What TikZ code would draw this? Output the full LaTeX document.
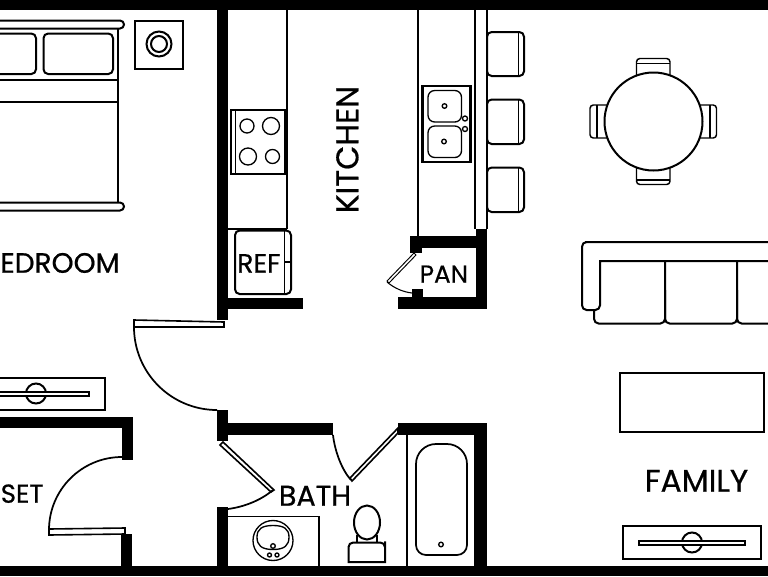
\documentclass[tikz,border=0pt]{standalone}
\usepackage{fontspec}
\setmainfont[FakeBold=0.6]{Poppins}
\usetikzlibrary{positioning}
\tikzset{
  wall/.style={fill=black},
  fixture/.style={draw,line width=1.5pt,fill=white},
  thinline/.style={draw,line width=1pt},
  swing/.style={draw,line width=1.3pt},
  roomlabel/.style={inner sep=0pt,font=\fontsize{21pt}{21pt}\selectfont,text height=15.5pt,text depth=0pt},
}
\begin{document}
\begin{tikzpicture}[x=0.75pt,y=-0.75pt]
  \useasboundingbox (0,0) rectangle (768,576);
  \fill[white] (0,0) rectangle (768,576);

  % walls
  \fill[wall] (0,0) rectangle (768,10);
  \fill[wall] (0,566) rectangle (768,576);
  \fill[wall] (217,10) rectangle (228,320);
  \fill[wall] (228,298) rectangle (303,309);
  \fill[wall] (217,410) rectangle (228,441);
  \fill[wall] (228,423) rectangle (333,435);
  \fill[wall] (217,507) rectangle (228,566);
  \fill[wall] (398,423) rectangle (487,435);
  \fill[wall] (474,423) rectangle (487,566);
  \fill[wall] (0,417) rectangle (133,428);
  \fill[wall] (122,417) rectangle (133,460);
  \fill[wall] (121,534) rectangle (132,566);
  \fill[wall] (410,236) rectangle (487,248);
  \fill[wall] (410,236) rectangle (422,253);
  \fill[wall] (476,229) rectangle (487,309);
  \fill[wall] (398,297) rectangle (487,309);
  \fill[wall] (412,289) rectangle (423,297);

  % doors
  \draw[fixture,line width=1.2pt] (134,320) -- (224,322) -- (224,327) -- (134,327) -- cycle;
  \draw[swing] (134,327) arc[start angle=180,end angle=90,radius=83];
  \draw[fixture,line width=1.2pt] (49,529) -- (125,528) -- (125,534) -- (49,535) -- cycle;
  \draw[swing] (122,457) arc[start angle=270,end angle=180,radius=73];
  \draw[fixture,line width=1.2pt] (223,442) -- (274,490) -- (271,492) -- (220,445) -- cycle;
  \draw[swing] (273,490) .. controls (260,501) and (243,507) .. (228,509);
  \draw[fixture,line width=1.2pt] (398,428) -- (398,433) -- (352,481) -- (350,478) -- cycle;
  \draw[swing] (351,480) .. controls (342,470) and (335,452) .. (333,435);
  \draw[thinline,line width=.7pt,fill=white] (414,253) -- (387,281) -- (389,283) -- (416,255) -- cycle;
  \draw[thinline,line width=.8pt] (387,282) .. controls (394,288) and (403,292) .. (412,293);

  % bed and nightstand
  \draw[fixture] (118,29) -- (118,202);
  \draw[fixture] (0,20.5) -- (120,20.5) arc[start angle=-90,end angle=90,radius=4] -- (0,28.5);
  \draw[fixture] (0,202.5) -- (120,202.5) arc[start angle=-90,end angle=90,radius=4] -- (0,210.5);
  \draw[fixture,rounded corners=3.5pt] (43.5,33.5) rectangle (113,74);
  \draw[fixture,rounded corners=3.5pt] (-8,33.5) rectangle (36,74);
  \draw[fixture] (0,80) -- (118,80);
  \draw[fixture] (0,101.5) -- (118,101.5);
  \draw[fixture] (134.5,20.5) rectangle (183,68.5);
  \draw[fixture] (159,44) circle [radius=12.5];
  \draw[fixture] (159,44) circle [radius=8];

  % dressers
  \draw[fixture] (-3,377.5) rectangle (105,410);
  \draw[fixture] (36,393.5) circle [radius=10];
  \draw[fixture] (-3,391.5) rectangle (89,395.5);
  \draw[fixture] (623,526) rectangle (761,559);
  \draw[fixture] (692,542.5) circle [radius=10];
  \draw[fixture] (638.5,540.5) rectangle (745,545);

  % kitchen counters
  \draw[thinline] (287,10) -- (287,229);
  \draw[thinline] (228,229) -- (287,229);
  \draw[fixture] (230.5,110) rectangle (285,174);
  \draw[thinline] (235.5,110) -- (235.5,174);
  \draw[thinline] (247,126) circle [radius=7];
  \draw[thinline] (271,126) circle [radius=8.5];
  \draw[thinline] (248,156.5) circle [radius=8.5];
  \draw[thinline] (272.5,156.5) circle [radius=7];
  \draw[fixture,rounded corners=3.5pt] (235,230.5) rectangle (291,294);
  \draw[thinline] (284.5,230.5) -- (284.5,294);
  \draw[thinline] (284.5,262) -- (291,262);

  \draw[thinline,line width=1.2pt] (418,10) -- (418,236);
  \draw[thinline] (475,10) -- (475,229);
  \draw[thinline,line width=1.2pt] (487,10) -- (487,229);
  \draw[fixture,line width=2.2pt] (422.5,86) rectangle (470.5,162);
  \draw[thinline,rounded corners=5pt] (428,90.5) rectangle (461.5,122);
  \draw[thinline,rounded corners=5pt] (428,126) rectangle (461.5,157.5);
  \draw[thinline] (444.5,106) circle [radius=2.3];
  \draw[thinline] (444,141.5) circle [radius=2.3];
  \draw[thinline] (465,118.5) circle [radius=2.5];
  \draw[thinline] (465,129) circle [radius=2.5];

  % stools
  \draw[fixture,rounded corners=3.5pt] (487,32) rectangle (524,76);
  \draw[fixture,rounded corners=3.5pt] (487,99.5) rectangle (524,144);
  \draw[fixture,rounded corners=3.5pt] (487,167.5) rectangle (524,212);
  \draw[thinline] (518.5,32) -- (518.5,76);
  \draw[thinline] (518.5,99.5) -- (518.5,144);
  \draw[thinline] (518.5,167.5) -- (518.5,212);

  % dining table
  \draw[fixture,line width=1.1pt,rounded corners=2.5pt] (636.5,58.5) rectangle (670,80);
  \draw[fixture,line width=1.1pt,rounded corners=2.5pt] (636.5,163) rectangle (670,184.5);
  \draw[fixture,line width=1.1pt,rounded corners=2.5pt] (590,105) rectangle (612,138);
  \draw[fixture,line width=1.1pt,rounded corners=2.5pt] (695,105) rectangle (716.5,138);
  \draw[thinline] (636.5,63.5) -- (670,63.5);
  \draw[thinline] (636.5,180) -- (670,180);
  \draw[thinline] (597,105) -- (597,138);
  \draw[thinline] (710,105) -- (710,138);
  \draw[fixture] (653.5,121.5) circle [radius=49];

  % sofa
  \draw[fixture] (770,242) -- (585,242) [rounded corners=3.5pt] -- (582,242) -- (582,310) -- (600,310) -- (600,280) [sharp corners] -- (600,261) -- (770,261);
  \draw[line width=1.5pt,rounded corners=3.5pt] (594,310.5) -- (594,323.5) -- (665,323.5) -- (665,261);
  \draw[line width=1.5pt,rounded corners=3.5pt] (665,290) -- (665,323.5) -- (737,323.5) -- (737,261);
  \draw[line width=1.5pt,rounded corners=3.5pt] (737,290) -- (737,323.5) -- (772,323.5);

  % coffee table
  \draw[fixture] (620,372.5) rectangle (764,432);

  % bath fixtures
  \draw[thinline,line width=1.2pt] (228,516.5) -- (319,516.5) -- (319,566);
  \draw[thinline] (273,540.5) circle [radius=20];
  \draw[thinline] (273,525.5) .. controls (262,525.5) and (257,529) .. (257,537) .. controls (257,545) and (261,549.5) .. (273,549.5) .. controls (285,549.5) and (289,545) .. (289,537) .. controls (289,529) and (284,525.5) .. (273,525.5) -- cycle;
  \draw[thinline] (273,546) circle [radius=2.3];
  \draw[thinline] (269.5,555) circle [radius=2];
  \draw[thinline] (277,555) circle [radius=2];
  \draw[thinline] (357,535) -- (357,543);
  \draw[thinline] (377,535) -- (377,543);
  \draw[fixture] (348.5,562) -- (348.5,546) [rounded corners=3.5pt] -- (348.5,542.5) -- (385,542.5) -- (385,546) [sharp corners] -- (385,562) -- cycle;
  \draw[fixture] (367,522.5) ellipse [x radius=13,y radius=17];
  \draw[thinline,line width=1.2pt] (407,435) -- (407,566);
  \draw[thinline,line width=1.3pt] (416,545) -- (416,464) arc[start angle=180,end angle=270,radius=20] -- (447,444) arc[start angle=270,end angle=360,radius=20] -- (467,545) arc[start angle=0,end angle=90,radius=10] -- (426,555) arc[start angle=90,end angle=180,radius=10] -- cycle;
  \draw[thinline] (441,544.5) circle [radius=2.3];

  % labels
  \node[roomlabel,anchor=south east] (bedroom) at (120,273) {EDROOM};
  \node[roomlabel,anchor=south west,font=\fontsize{19.5pt}{19.5pt}\selectfont] (closet) at (0.5,503) {SET};
  \node[roomlabel,anchor=south west,font=\fontsize{20pt}{20pt}\selectfont,text height=14pt] (ref) at (237,273) {REF};
  \node[roomlabel,anchor=south west,font=\fontsize{18.5pt}{18.5pt}\selectfont,text height=13pt] (pan) at (419.5,283) {PAN};
  \node[roomlabel,anchor=south,font=\fontsize{21.5pt}{21.5pt}\selectfont] (bath) at (315,506) {BATH};
  \node[roomlabel,anchor=south,font=\fontsize{23.5pt}{23.5pt}\selectfont] (family) at (696.5,492) {FAMILY};
  \node[roomlabel,rotate=90,font=\fontsize{23.5pt}{23.5pt}\selectfont] (kitchen) at (348,149.5) {KITCHEN};
\end{tikzpicture}
\end{document}
